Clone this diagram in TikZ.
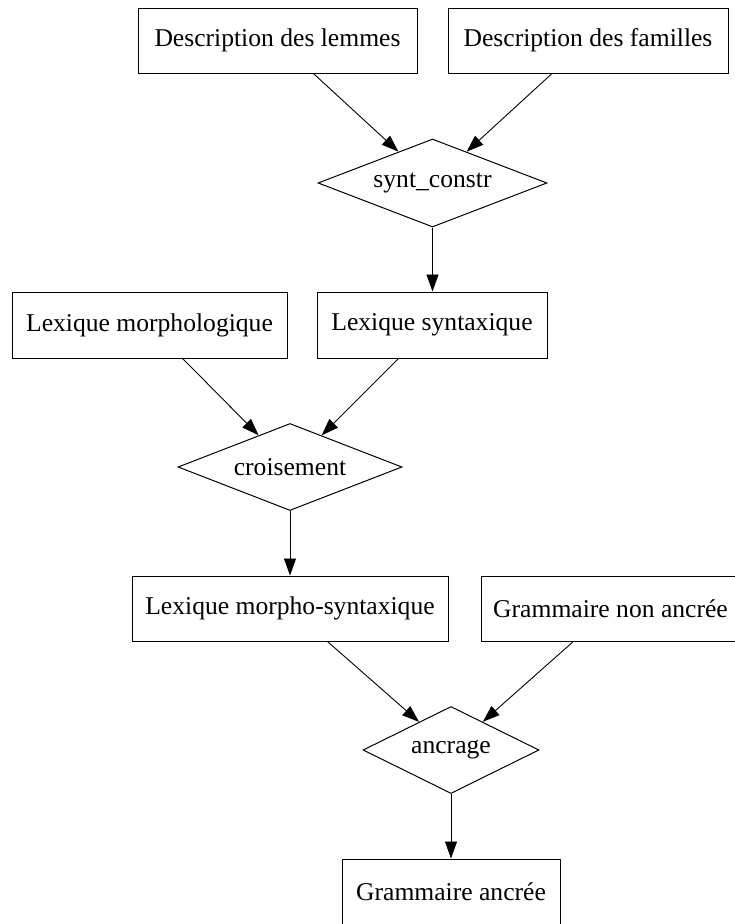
\documentclass[tikz,border=0pt]{standalone}
\usepackage{fontspec}
\setmainfont{Liberation Serif}
\usetikzlibrary{shapes.geometric,arrows.meta}
\tikzset{
  box/.style={draw, line width=1pt, rectangle, minimum height=65pt, inner sep=0pt, font=\fontsize{25.6}{30}\selectfont},
  dia/.style={draw, line width=1pt, diamond, inner sep=0pt, aspect=2.5, font=\fontsize{25.6}{30}\selectfont},
  link/.style={line width=0.9pt, -{Triangle[length=17pt,width=12pt]}}
}
\begin{document}
\begin{tikzpicture}[x=1pt,y=-1pt]
\useasboundingbox (0,0) rectangle (735,924);
\node[box, minimum width=279pt] (lem) at (277.5,40.5) {Description des lemmes};
\node[box, minimum width=280pt] (fam) at (588,40.5) {Description des familles};
\node[dia, minimum width=229pt, minimum height=88pt] (synt) at (432.5,183) {synt\_constr};
\node[box, minimum width=275pt, minimum height=66pt] (morph) at (149.5,325) {Lexique morphologique};
\node[box, minimum width=230pt, minimum height=66pt] (lsynt) at (432,325) {Lexique syntaxique};
\node[dia, minimum width=224pt, minimum height=87pt] (crois) at (290,467) {croisement};
\node[box, minimum width=316pt] (msynt) at (290,608.5) {Lexique morpho-syntaxique};
\node[box, minimum width=259pt] (gna) at (610.5,608.5) {Grammaire non ancrée};
\node[dia, minimum width=176pt, minimum height=87pt] (ancr) at (451,750) {ancrage};
\node[box, minimum width=218pt] (ga) at (451,891.5) {Grammaire ancrée};
\draw[link] (lem) -- (synt);
\draw[link] (fam) -- (synt);
\draw[link] (synt.south) -- (synt.south |- lsynt.north);
\draw[link] (morph) -- (crois);
\draw[link] (lsynt) -- (crois);
\draw[link] (crois.south) -- (crois.south |- msynt.north);
\draw[link] (msynt) -- (ancr);
\draw[link] (gna) -- (ancr);
\draw[link] (ancr) -- (ga);
\end{tikzpicture}
\end{document}
